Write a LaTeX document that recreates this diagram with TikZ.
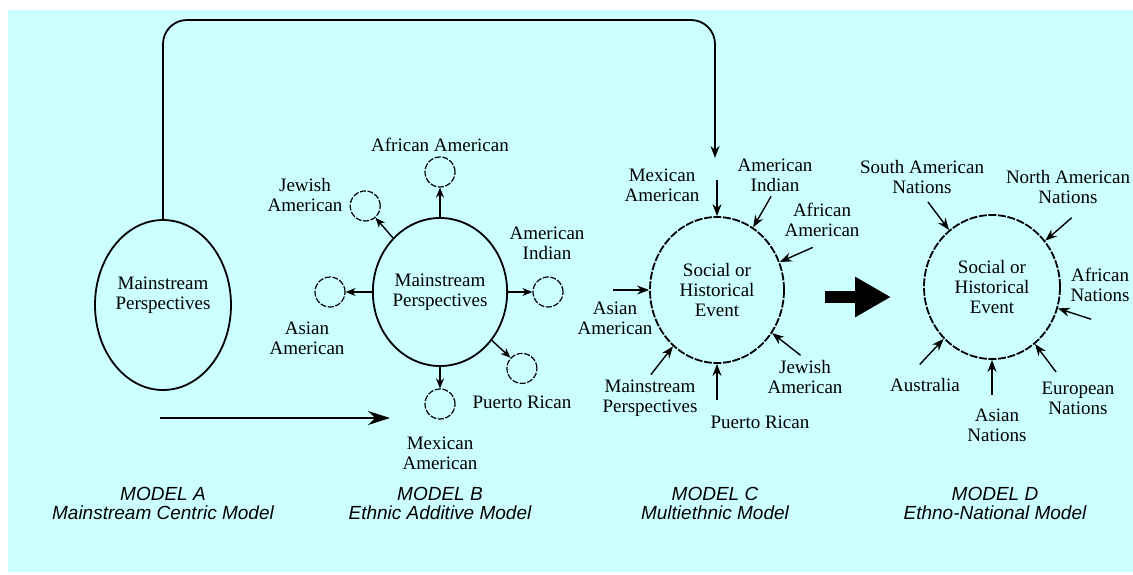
\documentclass[tikz,border=0pt]{standalone}
\usepackage{fontspec}
\setmainfont{Liberation Serif}
\setsansfont{Liberation Sans}
\usetikzlibrary{arrows.meta,calc,shapes.geometric}
\definecolor{ScanCyan}{HTML}{CCFFFF}

\tikzset{
    lab/.style={align=center, inner sep=0pt, font=\fontsize{9.5}{10}\selectfont},
    caption/.style={align=center, inner sep=0pt, font=\sffamily\itshape\fontsize{9.5}{9.5}\selectfont},
    bigcircle/.style={ellipse, draw, line width=0.9pt, inner sep=0pt, align=center, font=\fontsize{9.5}{10}\selectfont},
    eventcircle/.style={bigcircle, dash pattern=on 4pt off 0.8pt},
    satcircle/.style={circle, draw, line width=0.6pt, dash pattern=on 3pt off 0.8pt, minimum size=15pt, inner sep=0pt},
    arr/.style={line width=0.7pt, -{Stealth[length=6pt,width=4.5pt]}},
}

\begin{document}
\begin{tikzpicture}[x=0.5pt, y=-0.5pt]
    \useasboundingbox (0,0) rectangle (1133,574);
    \clip (0,0) rectangle (1133,574);
    \fill[ScanCyan] (8,10) rectangle (1133,572);
    % model A
    \node[bigcircle, minimum width=68pt, minimum height=85pt] (A) at (163,305) {};
    \node[lab] (Atext) at ($(A)+(0,-10)$) {Mainstream\\Perspectives};
    \coordinate (corner) at (715,20);
    \coordinate (ctip) at (715,158);
    \draw[arr, line width=0.9pt, rounded corners=12pt] (A.north) |- (corner) -- (ctip);
    \coordinate (hstart) at (160,418);
    \coordinate (hend) at (390,418);
    \draw[line width=0.9pt, -{Stealth[length=11pt,width=7pt]}] (hstart) -- (hend);
    % model B
    \node[bigcircle, minimum width=66pt, minimum height=74pt] (B) at (440,292) {Mainstream\\Perspectives};
    \foreach \ang/\name/\dist in {90/afr/60,131/jew/57,0/ind/54,180/asi/55,317/pue/56,270/mex/56} {
        \node[satcircle] (\name) at ($(B)+(\ang:\dist pt)$) {};
        \draw[arr, -{Stealth[length=5pt,width=4pt]}] (B) -- (\name);
    }
    \node[lab] (afrlab) at (440,145) {African American};
    \node[lab] (jewlab) at (305,195) {Jewish\\American};
    \node[lab] (indlab) at (547,243) {American\\Indian};
    \node[lab] (asilab) at (307,338) {Asian\\American};
    \node[lab] (puelab) at (522,402) {Puerto Rican};
    \node[lab] (mexlab) at (440,453) {Mexican\\American};
    % model C
    \node[eventcircle, minimum width=67pt, minimum height=73pt] (C) at (717,290) {Social or\\Historical\\Event};
    \foreach \ang in {90,60,24,180,232,270,322} {
        \coordinate (c\ang) at ($(C.\ang)+(\ang:18pt)$);
        \draw[arr] (c\ang) -- (C.\ang);
    }
    \node[lab] (cmex) at (662,185) {Mexican\\American};
    \node[lab] (cind) at (775,175) {American\\Indian};
    \node[lab] (cafr) at (822,220) {African\\American};
    \node[lab] (casi) at (615,318) {Asian\\American};
    \node[lab] (cmain) at (650,398) {Mainstream\\Perspectives};
    \node[lab] (cpue) at (760,422) {Puerto Rican};
    \node[lab] (cjew) at (805,377) {Jewish\\American};
    % big arrow
    \coordinate (bigtail) at (825,297);
    \coordinate (bighead) at (891,297);
    \draw[line width=6pt, -{Triangle[length=18pt,width=19pt]}] (bigtail) -- (bighead);
    % model D
    \node[eventcircle, minimum width=68pt, minimum height=72pt] (D) at (992,287) {Social or\\Historical\\Event};
    \foreach \ang in {127,41,342,307,270,227} {
        \coordinate (d\ang) at ($(D.\ang)+(\ang:17.5pt)$);
        \draw[arr] (d\ang) -- (D.\ang);
    }
    \node[lab] (dsou) at (922,177) {South American\\Nations};
    \node[lab] (dnor) at (1068,187) {North American\\Nations};
    \node[lab, anchor=east] (dafr) at (1130,285) {African\\Nations};
    \node[lab] (deur) at (1078,398) {European\\Nations};
    \node[lab] (dasi) at (997,425) {Asian\\Nations};
    \node[lab] (daus) at (925,385) {Australia};
    % captions
    \foreach \x/\m/\t in {163/A/Mainstream Centric Model,440/B/Ethnic Additive Model,715/C/Multiethnic Model,995/D/Ethno-National Model} {
        \node[caption] (cap\m) at (\x,503) {MODEL \m\\ \t};
    }
\end{tikzpicture}
\end{document}
